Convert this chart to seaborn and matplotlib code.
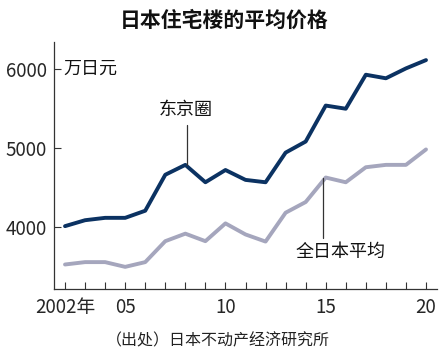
import matplotlib
matplotlib.use('Agg')
import matplotlib.pyplot as plt
import seaborn as sns
import pandas as pd

# 数据（万日元）
years = list(range(2002, 2021))
tokyo = [4015, 4090, 4120, 4120, 4210, 4665, 4790, 4570, 4725, 4600,
         4570, 4945, 5085, 5540, 5500, 5930, 5885, 6010, 6115]
national = [3530, 3560, 3560, 3500, 3560, 3825, 3920, 3825, 4050, 3910,
            3820, 4185, 4320, 4630, 4570, 4760, 4790, 4790, 4985]
series_names = ['东京圈', '全日本平均']
colors = ['#0b3262', '#a5a6bd']
xtick_labels = {2002: '2002年', 2005: '05', 2010: '10', 2015: '15', 2020: '20'}
yticks = [4000, 5000, 6000]

df = pd.concat([
    pd.DataFrame({'year': years, 'price': tokyo, 'area': series_names[0]}),
    pd.DataFrame({'year': years, 'price': national, 'area': series_names[1]}),
])

sns.set_style('ticks')
cjk = ['Noto Sans CJK SC', 'DejaVu Sans']
num_font = ['DejaVu Sans Condensed', 'Liberation Sans Narrow', 'Noto Sans CJK SC', 'DejaVu Sans']
plt.rcParams['font.family'] = cjk

fig = plt.figure(figsize=(4.48, 3.54), dpi=100)
ax = fig.add_axes([0.1205, 0.1836, 0.855, 0.698])

sns.lineplot(data=df, x='year', y='price', hue='area', hue_order=series_names,
             palette=colors, linewidth=2.8, legend=False, ax=ax)

ax.set_xlim(2001.45, 2020.55)
ax.set_ylim(3220, 6345)
ax.set_xlabel('')
ax.set_ylabel('')

ax.set_xticks(years)
ax.set_xticklabels([xtick_labels.get(y, '') for y in years], family=num_font,
                   fontsize=13.5, stretch='condensed')
ax.set_yticks(yticks)
ax.set_yticklabels([str(v) for v in yticks], family=num_font,
                   fontsize=13.5, stretch='condensed')
ax.tick_params(axis='both', direction='in', length=5, width=0.8, color='#333333')
ax.tick_params(axis='x', pad=6)
ax.tick_params(axis='y', pad=5)

for side in ['top', 'right']:
    ax.spines[side].set_visible(False)
for side in ['left', 'bottom']:
    ax.spines[side].set_color('#333333')
    ax.spines[side].set_linewidth(0.9)

# 标注：引线 + 文字
i08 = years.index(2008)
ax.plot([2008.1, 2008.1], [tokyo[i08], 5295], color='#333333', lw=0.9)
ax.text(2008.0, 5485, '东京圈', ha='center', va='center', fontsize=13, color='#111111')

i15 = years.index(2015)
ax.plot([2014.85, 2014.85], [national[i15], 3865], color='#333333', lw=0.9)
ax.text(2015.75, 3690, '全日本平均', ha='center', va='center', fontsize=13, color='#111111')

ax.text(2001.9, 6000, '万日元', ha='left', va='center', fontsize=13, color='#111111')

fig.text(0.5, 0.943, '日本住宅楼的平均价格', ha='center', va='center',
         fontsize=15, fontweight='bold', color='#111111')
fig.text(0.4855, 0.037, '（出处）日本不动产经济研究所', ha='center', va='center',
         fontsize=11.5, color='#222222')

fig.savefig('out.png', dpi=100)
